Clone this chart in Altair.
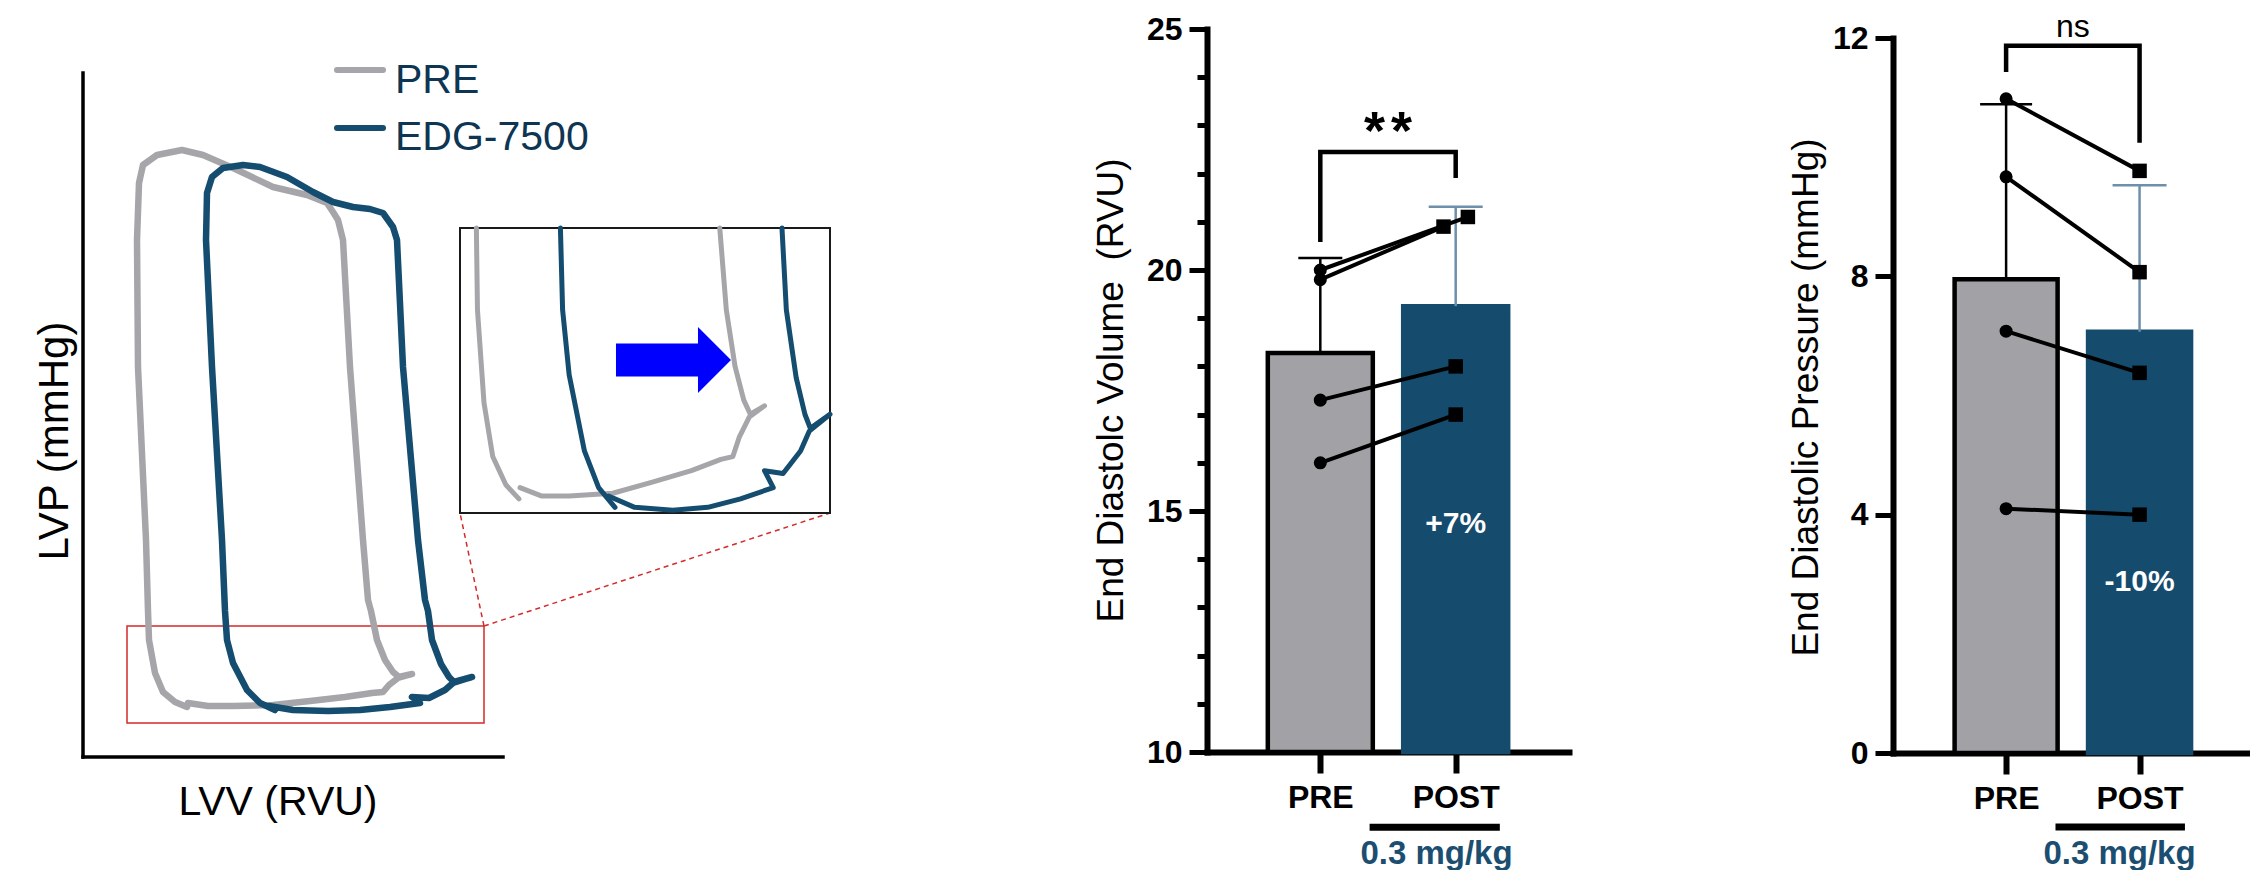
import altair as alt
import pandas as pd

FONT = "Liberation Sans"
BAR_GRAY = "#a2a1a6"
BAR_NAVY = "#154b6d"
LOOP_GRAY = "#a6a6aa"
LOOP_BLUE = "#144d6f"
ERR_BLUE = "#6e8fa9"
DOSE_BLUE = "#1b4e70"
LEGEND_TXT = "#0e3552"
RED = "#d42a2a"

# ---------------- PV loop traces (arbitrary LVV / LVP units) ----
pre_lvv = [105, 125, 150, 190, 227, 262, 289, 300, 306, 315, 329, 316,
           310, 302, 294, 288, 285, 280, 267, 260, 255, 250, 244,
           224, 190, 150, 120, 99, 74, 60, 56,
           54, 55, 63, 65, 66, 72, 80, 92, 104]
pre_lvp = [54, 51, 51, 52, 56, 60, 64, 65, 72, 79, 83, 80,
           85, 97, 117, 146, 157, 217, 390, 517, 537, 545, 554,
           562, 570, 589, 602, 607, 602, 592, 574,
           517, 390, 217, 146, 117, 84, 65, 55, 50]
pre_phase = ["fill"] * 12 + ["contract"] * 11 + ["eject"] * 8 + ["relax"] * 9

edg_lvv = [186, 210, 245, 277, 307, 337, 329, 346, 362, 370, 389, 371,
           366, 358, 349, 345, 342, 335, 320, 314, 310,
           300, 287, 270, 250, 230, 204, 177, 160, 140, 129, 124,
           123, 129, 139, 142, 144, 150, 164, 177, 192]
edg_lvp = [51, 47, 46, 47, 50, 54, 60, 59, 67, 74, 80, 75,
           80, 93, 117, 146, 157, 217, 390, 517, 530,
           544, 548, 550, 555, 565, 580, 590, 592, 589, 580, 564,
           517, 390, 217, 146, 117, 94, 67, 54, 47]
edg_phase = ["fill"] * 12 + ["contract"] * 9 + ["eject"] * 11 + ["relax"] * 9

loop_names = ["PRE", "EDG-7500"]

# plot frame and annotation geometry of the PV panel (same arbitrary units)
frame_lvv = [0, 420]
frame_lvp = [0, 684]
zoom_box_lvv = [44, 401]
zoom_box_lvp = [34, 131]
inset_lvv = [50, 389]
inset_lvp = [45, 146]

# ---------------- bar-chart data ----------------
groups = ["PRE", "POST"]
edv_pre = [20.0, 19.8, 17.3, 16.0]
edv_post = [21.1, 20.9, 18.0, 17.0]
edv_mean = [18.28, 19.25]
edv_sd = [1.97, 2.06]
edv_post_nudge = [0.09, -0.09, 0.0, 0.0]

edp_pre = [10.98, 9.67, 7.08, 4.10]
edp_post = [9.77, 8.07, 6.38, 4.00]
edp_mean = [7.95, 7.07]
edp_sd = [2.94, 2.46]
edp_post_nudge = [0.0, 0.0, 0.0, 0.0]

# ---------------- PV loop panel ----------------
rows = []
for name, xs, ys, ph in [("PRE", pre_lvv, pre_lvp, pre_phase),
                         ("EDG-7500", edg_lvv, edg_lvp, edg_phase)]:
    for i, (a, b, p) in enumerate(zip(xs, ys, ph)):
        rows.append({"loop": name, "i": i, "lvv": a, "lvp": b, "phase": p})
loops = pd.DataFrame(rows)

xA = alt.Scale(domain=[-75, 800], nice=False, zero=False)
yA = alt.Scale(domain=[-111, 749], nice=False, zero=False)
loop_color = alt.Scale(domain=loop_names, range=[LOOP_GRAY, LOOP_BLUE])


def XA(f):
    return alt.X(f, scale=xA, axis=None)


def YA(f):
    return alt.Y(f, scale=yA, axis=None)


frame = alt.Chart(pd.DataFrame({
    "x": [frame_lvv[0], frame_lvv[0]], "y": [frame_lvp[0], frame_lvp[0]],
    "x2": [frame_lvv[0], frame_lvv[1]], "y2": [frame_lvp[1], frame_lvp[0]]})
).mark_rule(color="black", strokeWidth=3.5, strokeCap="square").encode(
    x=XA("x:Q"), y=YA("y:Q"), x2="x2:Q", y2="y2:Q")

zoom_box = alt.Chart(pd.DataFrame({
    "x": [zoom_box_lvv[0]], "x2": [zoom_box_lvv[1]],
    "y": [zoom_box_lvp[0]], "y2": [zoom_box_lvp[1]]})
).mark_rect(filled=False, stroke=RED, strokeWidth=1.5).encode(
    x=XA("x:Q"), x2="x2:Q", y=YA("y:Q"), y2="y2:Q")

dash = alt.Chart(pd.DataFrame({
    "x": [zoom_box_lvv[1], zoom_box_lvv[1]], "y": [zoom_box_lvp[1], zoom_box_lvp[1]],
    "x2": [377, 747], "y2": [244, 244]})
).mark_rule(color=RED, strokeWidth=1.5, strokeDash=[5, 4]).encode(
    x=XA("x:Q"), y=YA("y:Q"), x2="x2:Q", y2="y2:Q")

main_loops = alt.Chart(loops).mark_line(
    strokeWidth=6.5, strokeCap="round", strokeJoin="round").encode(
    x=XA("lvv:Q"), y=YA("lvp:Q"),
    color=alt.Color("loop:N", scale=loop_color, legend=None),
    detail="loop:N", order="i:Q")

leg_df = pd.DataFrame({"loop": loop_names, "x": [254, 254], "x2": [300, 300],
                       "y": [687, 629], "tx": [312, 312], "ty": [664, 607]})
leg_lines = alt.Chart(leg_df).mark_rule(strokeWidth=6, strokeCap="round").encode(
    x=XA("x:Q"), x2="x2:Q", y=YA("y:Q"),
    color=alt.Color("loop:N", scale=loop_color, legend=None))
leg_text = alt.Chart(leg_df).mark_text(
    font=FONT, fontSize=41, color=LEGEND_TXT, align="left", baseline="alphabetic").encode(
    x=XA("tx:Q"), y=YA("ty:Q"), text="loop:N")

lvv_title = alt.Chart(pd.DataFrame({"x": [195], "y": [-58], "t": ["LVV (RVU)"]})).mark_text(
    font=FONT, fontSize=41, color="black", align="center", baseline="alphabetic").encode(
    x=XA("x:Q"), y=YA("y:Q"), text="t:N")
lvp_title = alt.Chart(pd.DataFrame({"x": [-15], "y": [316], "t": ["LVP (mmHg)"]})).mark_text(
    font=FONT, fontSize=42, color="black", align="center", baseline="alphabetic",
    angle=270).encode(x=XA("x:Q"), y=YA("y:Q"), text="t:N")

main_layer = alt.layer(frame, zoom_box, dash, main_loops, leg_lines, leg_text,
                       lvv_title, lvp_title)

xI = alt.Scale(domain=inset_lvv, range=[452, 822], nice=False, zero=False)
yI = alt.Scale(domain=inset_lvp, range=[505, 220], nice=False, zero=False)


def XI(f):
    return alt.X(f, scale=xI, axis=None)


def YI(f):
    return alt.Y(f, scale=yI, axis=None)


inset_box = alt.Chart(pd.DataFrame({
    "x": [inset_lvv[0]], "x2": [inset_lvv[1]], "y": [inset_lvp[0]], "y2": [inset_lvp[1]]})
).mark_rect(filled=False, stroke="#1a1a1a", strokeWidth=2).encode(
    x=XI("x:Q"), x2="x2:Q", y=YI("y:Q"), y2="y2:Q")

inset_loops = alt.Chart(loops).transform_filter(
    f"datum.lvp <= {inset_lvp[1]}").transform_calculate(
    part="datum.phase === 'relax' ? 'b' : 'a'").mark_line(
    strokeWidth=5, strokeCap="round", strokeJoin="round").encode(
    x=XI("lvv:Q"), y=YI("lvp:Q"),
    color=alt.Color("loop:N", scale=loop_color, legend=None),
    detail=["loop:N", "part:N"], order="i:Q")

ARROW = "M-1,-0.287L0.426,-0.287L0.426,-0.574L1,0L0.426,0.574L0.426,0.287L-1,0.287Z"
arrow = alt.Chart(pd.DataFrame({"x": [245.6], "y": [99.2]})).mark_point(
    shape=ARROW, size=13225, filled=True, color="#0000ff", opacity=1, strokeWidth=0).encode(
    x=XI("x:Q"), y=YI("y:Q"))

inset_layer = alt.layer(inset_box, inset_loops, arrow)

pv_panel = alt.layer(main_layer, inset_layer).resolve_scale(
    x="independent", y="independent").properties(width=875, height=860)


# ---------------- bar panels ----------------
def bar_panel(pre, post, nudge, mean, sd, *, xdom, ydom, yrng, width, height, yticks,
              major, ytitle, ytitle_x, ytitle_y, caps, bar_size, bracket_y, sig_df,
              sig_size, sig_weight, pct_label, pct_y, under_x, under_y,
              xtitle_x, xtitle_y):
    xs = alt.Scale(domain=xdom, nice=False, zero=False)
    ys = alt.Scale(domain=ydom, range=yrng, nice=False, zero=False)
    is_major = f"datum.value % {major} === 0"
    yax = alt.Axis(
        title=ytitle, values=yticks,
        labelExpr=f"{is_major} ? datum.label : ''",
        tickSize={"condition": {"test": is_major, "value": 18}, "value": 10},
        tickWidth=5, tickColor="black", domainColor="black", domainWidth=6,
        domainCap="square", labelFont=FONT, labelFontSize=32, labelFontWeight="bold",
        labelColor="black", labelPadding=7, labelOverlap=False, labelFlush=False,
        grid=False, titleFont=FONT, titleFontSize=37, titleFontWeight="normal",
        titleColor="black", titleX=ytitle_x, titleY=ytitle_y,
        titleBaseline="alphabetic", titleAngle=270, titleAlign="center")
    xax = alt.Axis(
        title="0.3 mg/kg", values=[1, 2],
        labelExpr="datum.value === 1 ? 'PRE' : 'POST'",
        tickSize=21, tickWidth=6, tickColor="black", domainColor="black",
        domainWidth=6, domainCap="square", labelFont=FONT, labelFontSize=32,
        labelFontWeight="bold", labelColor="black", labelPadding=9,
        labelFlush=False, labelOverlap=False, grid=False,
        titleFont=FONT, titleFontSize=33, titleFontWeight="bold",
        titleColor=DOSE_BLUE, titleX=xtitle_x, titleY=xtitle_y,
        titleBaseline="alphabetic", titleAlign="center")

    def X(f):
        return alt.X(f, scale=xs, axis=xax)

    def Y(f):
        return alt.Y(f, scale=ys, axis=yax)

    pos = "indexof(['PRE','POST'], datum.group) + 1"
    base = alt.Chart(pd.DataFrame({"group": groups, "mean": mean, "sd": sd})
                     ).transform_calculate(xpos=pos, top="datum.mean + datum.sd")
    bars = base.mark_bar(size=bar_size, strokeWidth=4.5).encode(
        x=X("xpos:Q"), y=Y("mean:Q"), y2=alt.datum(ydom[0]),
        fill=alt.Fill("group:N", scale=alt.Scale(domain=groups, range=[BAR_GRAY, BAR_NAVY]),
                      legend=None),
        stroke=alt.Stroke("group:N", scale=alt.Scale(domain=groups, range=["black", BAR_NAVY]),
                          legend=None))
    err_col = alt.condition("datum.group === 'PRE'", alt.value("black"), alt.value(ERR_BLUE))
    err = base.mark_rule(strokeWidth=2.5).encode(
        x=X("xpos:Q"), y=Y("mean:Q"), y2="top:Q", color=err_col)
    cap = base.mark_tick(orient="horizontal", thickness=2.5, opacity=1).encode(
        x=X("xpos:Q"), y=Y("top:Q"), color=err_col,
        size=alt.condition("datum.group === 'PRE'", alt.value(caps[0]), alt.value(caps[1])))

    prow = []
    for k in range(len(pre)):
        prow.append({"subject": k, "group": "PRE", "value": pre[k], "nudge": 0.0})
        prow.append({"subject": k, "group": "POST", "value": post[k], "nudge": nudge[k]})
    pts = alt.Chart(pd.DataFrame(prow)).transform_calculate(xp=pos + " + datum.nudge")
    lines = pts.mark_line(color="black", strokeWidth=4).encode(
        x=X("xp:Q"), y=Y("value:Q"), detail="subject:N", order="xp:Q")
    dots = pts.mark_point(filled=True, color="black", opacity=1).encode(
        x=X("xp:Q"), y=Y("value:Q"),
        shape=alt.Shape("group:N", scale=alt.Scale(domain=groups, range=["circle", "square"]),
                        legend=None),
        size=alt.condition("datum.group === 'PRE'", alt.value(170), alt.value(210)))

    bracket = alt.Chart(pd.DataFrame({"bx": [1, 1, 2, 2], "by": bracket_y, "k": [0, 1, 2, 3]})
                        ).mark_line(color="black", strokeWidth=4.5, strokeJoin="miter",
                                    strokeCap="butt").encode(
        x=X("bx:Q"), y=Y("by:Q"), order="k:Q")
    sig = alt.Chart(sig_df).mark_text(
        font=FONT, fontSize=sig_size, fontWeight=sig_weight, color="black",
        align="center", baseline="alphabetic").encode(
        x=X("x:Q"), y=Y("y:Q"), text="t:N")
    pct = alt.Chart(pd.DataFrame({"x": [2], "y": [pct_y], "t": [pct_label]})).mark_text(
        font=FONT, fontSize=30, fontWeight="bold", color="white", align="center",
        baseline="alphabetic").encode(x=X("x:Q"), y=Y("y:Q"), text="t:N")
    under = alt.Chart(pd.DataFrame({"x": [under_x[0]], "x2": [under_x[1]], "y": [under_y]})
                      ).mark_rule(color="black", strokeWidth=7, strokeCap="butt").encode(
        x=X("x:Q"), x2="x2:Q", y=Y("y:Q"))
    return alt.layer(bars, err, cap, bracket, lines, dots, sig, pct, under).properties(
        width=width, height=height)


edv_panel = bar_panel(
    edv_pre, edv_post, edv_post_nudge, edv_mean, edv_sd,
    xdom=[0.2, 2.8], ydom=[10, 25], yrng=[744, 21], width=362, height=744,
    yticks=list(range(10, 26)), major=5,
    ytitle="End Diastolc Volume\u00a0 (RVU)", ytitle_x=-85, ytitle_y=382,
    caps=[44, 54], bar_size=105, bracket_y=[20.58, 22.45, 22.45, 21.91],
    sig_df=pd.DataFrame({"x": [1.4, 1.6], "y": [22.52, 22.52], "t": ["*", "*"]}),
    sig_size=54, sig_weight="bold", pct_label="+7%", pct_y=14.55,
    under_x=[1.364, 2.326], under_y=8.44, xtitle_x=229, xtitle_y=111)

edp_panel = bar_panel(
    edp_pre, edp_post, edp_post_nudge, edp_mean, edp_sd,
    xdom=[0.19, 2.79], ydom=[0, 12], yrng=[745, 30], width=357, height=745,
    yticks=[0, 4, 8, 12], major=4,
    ytitle="End Diastolic Pressure (mmHg)", ytitle_x=-76, ytitle_y=389,
    caps=[52, 54], bar_size=103, bracket_y=[11.43, 11.87, 11.87, 10.24],
    sig_df=pd.DataFrame({"x": [1.5], "y": [12.01], "t": ["ns"]}),
    sig_size=32, sig_weight="normal", pct_label="-10%", pct_y=2.72,
    under_x=[1.37, 2.34], under_y=-1.24, xtitle_x=226, xtitle_y=110)

chart = alt.hconcat(pv_panel, edv_panel, edp_panel, spacing=324, bounds="flush").properties(
    padding=0).configure_view(strokeWidth=0)

chart.save("out.html", embed_options={"renderer": "svg", "actions": False})
